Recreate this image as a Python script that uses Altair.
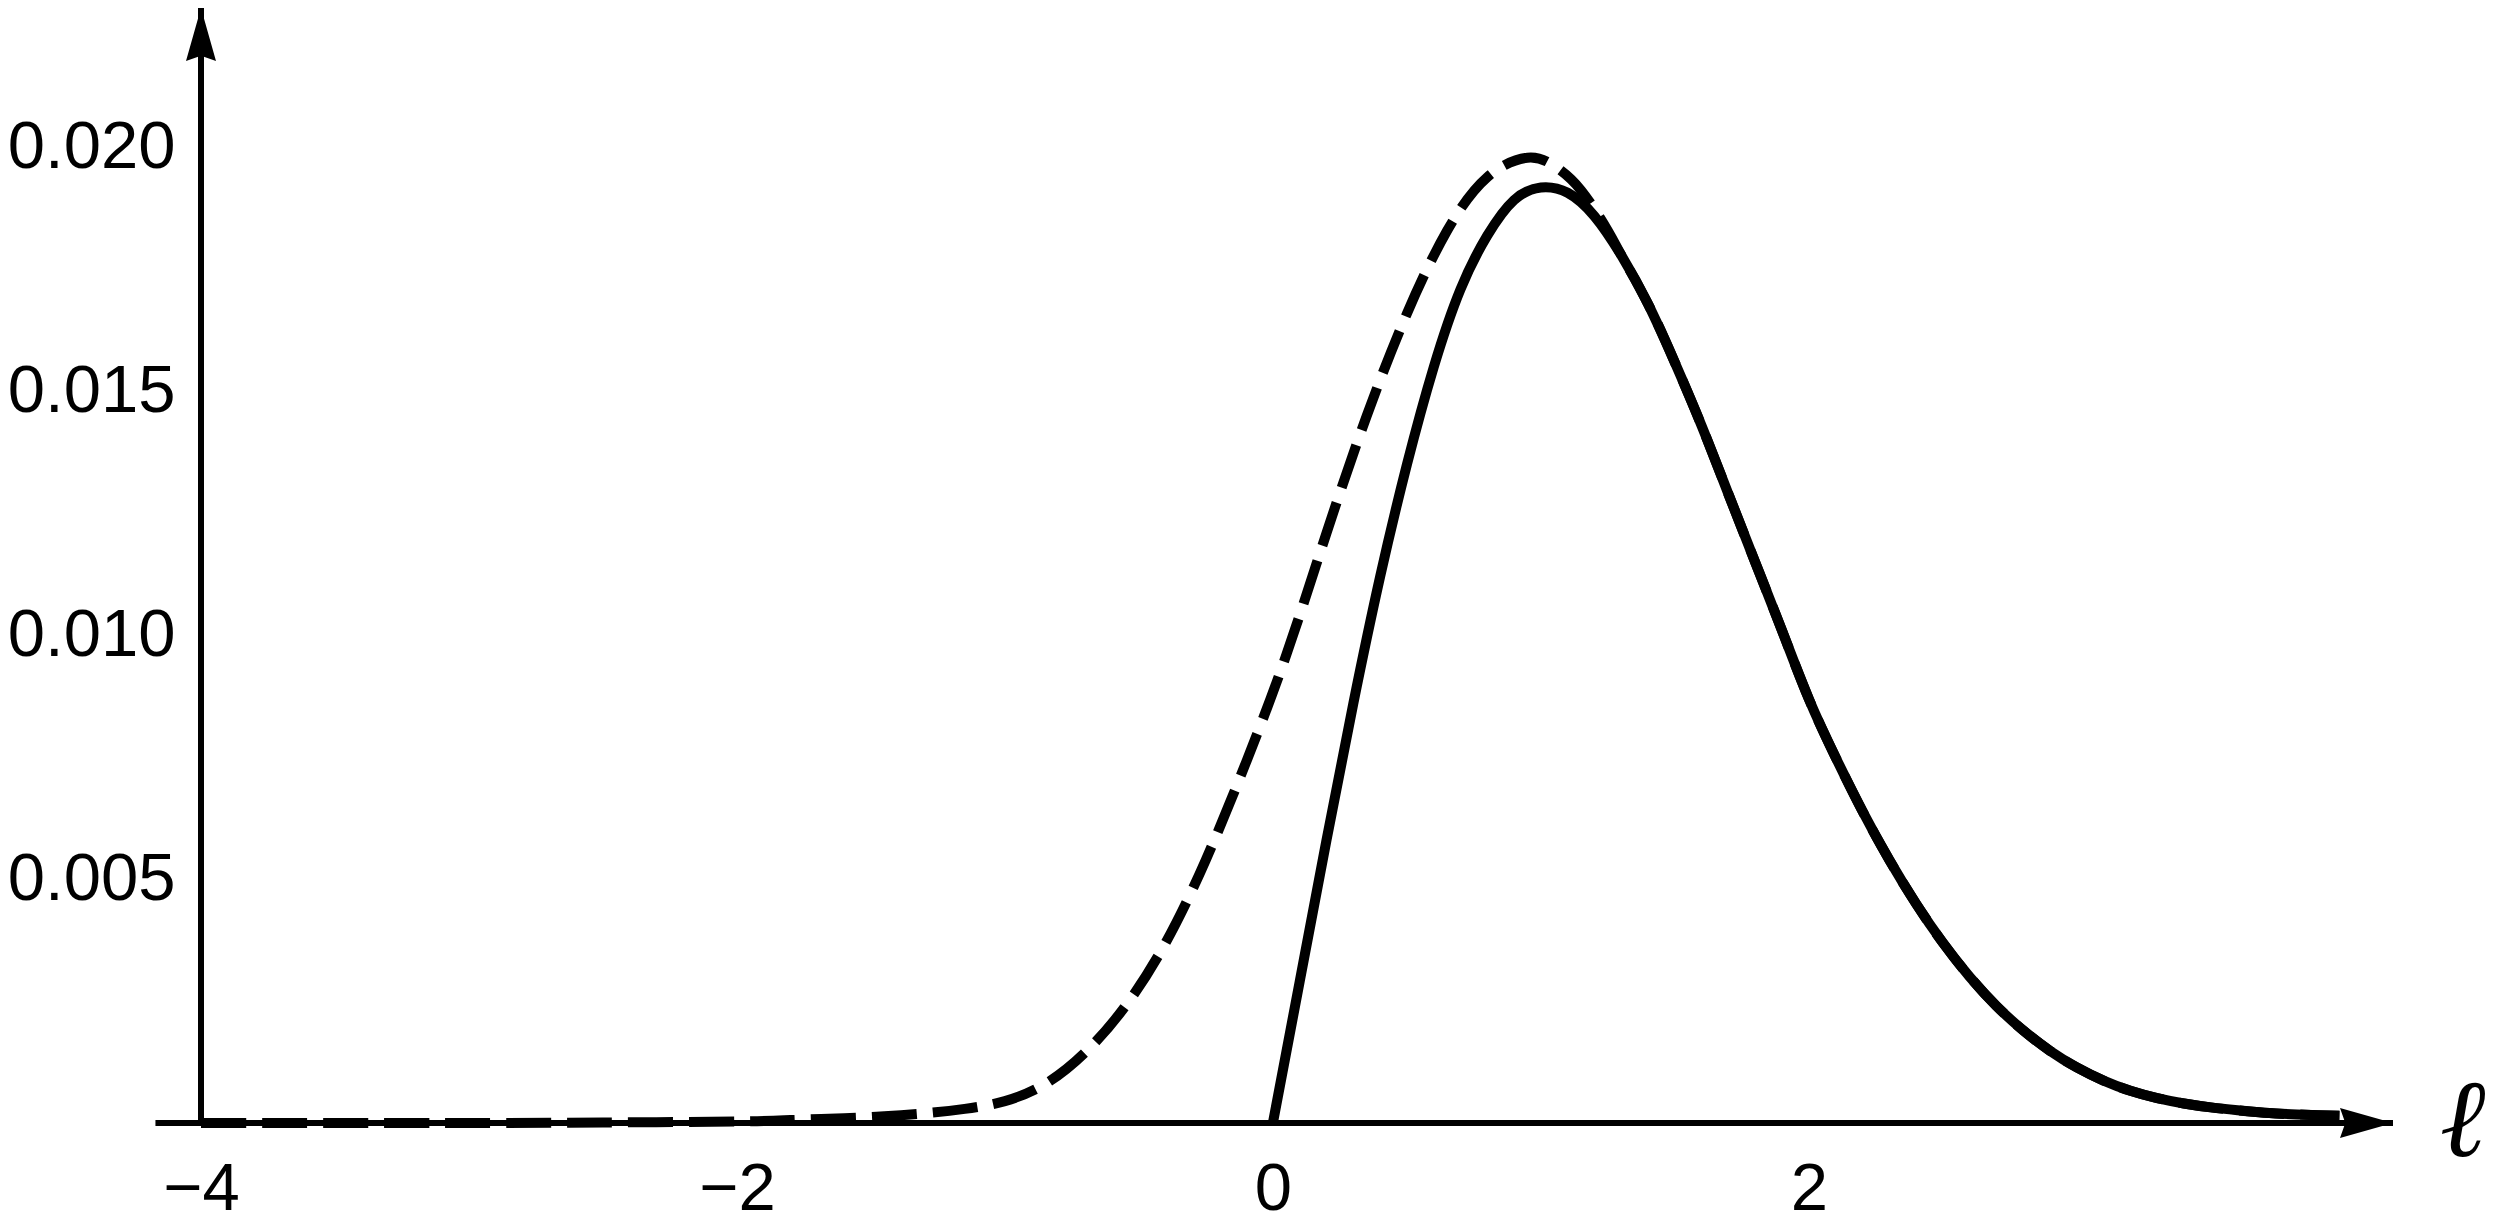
import altair as alt
import pandas as pd

# ---- data ----
dash_x = [-4.0, -3.0, -2.5, -2.0, -1.8, -1.6, -1.45, -1.3, -1.15, -1.0, -0.85, -0.7,
          -0.55, -0.4, -0.25, -0.1, 0.05, 0.2, 0.35, 0.5, 0.65, 0.8, 0.95, 1.05, 1.15,
          1.25]
dash_y = [0.0, 0.0, 0.00001, 0.00003, 0.00006, 0.0001, 0.00014, 0.0002, 0.00029,
          0.00045, 0.0008, 0.00145, 0.0024, 0.0037, 0.0054, 0.0074, 0.0096, 0.0121,
          0.0145, 0.0166, 0.0183, 0.0194, 0.0198, 0.01963, 0.01913, 0.0183]

solid_x = [0.0, 0.1, 0.2, 0.3, 0.4, 0.5, 0.6, 0.7, 0.8, 0.9, 1.0, 1.1, 1.2, 1.3, 1.4,
           1.5, 1.6, 1.7, 1.8, 1.9, 2.0, 2.1, 2.2, 2.3, 2.4, 2.5, 2.6, 2.7, 2.8, 2.9,
           3.0, 3.1, 3.2, 3.3, 3.4, 3.5, 3.6, 3.7, 3.8, 3.9, 3.98]
solid_y = [0.0, 0.0029, 0.0058, 0.0086, 0.0112, 0.0135, 0.0155, 0.0171, 0.0182, 0.01893,
           0.01919, 0.01908, 0.0186, 0.0178, 0.0168, 0.0156, 0.0143, 0.0129, 0.0115, 0.0101,
           0.0087, 0.0075, 0.0064, 0.0054, 0.0045, 0.0037, 0.0030, 0.0024, 0.0019, 0.00148,
           0.00114, 0.00087, 0.00066, 0.00051, 0.0004, 0.00032, 0.00026, 0.00021, 0.00018,
           0.00016, 0.00015]

x_ticks = [-4, -2, 0, 2]
y_ticks = [0.005, 0.010, 0.015, 0.020]
x_label = "ℓ"

X_MIN, X_MAX, X_AXIS_START = -4.0, 4.18, -4.17
Y_MAX = 0.02287
LABEL_X = 4.44

# dashed curve coincides with the solid one on the right-hand side
dash_full_x = dash_x + [x for x in solid_x if x >= 1.3]
dash_full_y = dash_y + [y for x, y in zip(solid_x, solid_y) if x >= 1.3]

df_dash = pd.DataFrame({"x": dash_full_x, "y": dash_full_y})
df_solid = pd.DataFrame({"x": solid_x, "y": solid_y})

FONT = "Liberation Sans"

xscale = alt.Scale(domain=[X_MIN, X_MAX], nice=False, zero=False)
yscale = alt.Scale(domain=[0, Y_MAX], nice=False, zero=False)

xaxis = alt.Axis(values=x_ticks, title=None, domain=False, ticks=False, grid=False,
                 labelFontSize=67, labelFont=FONT, labelColor="black",
                 labelPadding=33, format="d", labelFlush=False, labelOverlap=False)
yaxis = alt.Axis(values=y_ticks, title=None, domain=False, ticks=False, grid=False,
                 labelFontSize=67, labelFont=FONT, labelColor="black",
                 labelPadding=26, format=".3f", labelFlush=False, labelOverlap=False)

dashed = alt.Chart(df_dash).mark_line(
    color="black", strokeWidth=10, strokeDash=[45, 16], interpolate="natural"
).encode(
    x=alt.X("x:Q", scale=xscale, axis=xaxis),
    y=alt.Y("y:Q", scale=yscale, axis=yaxis),
)

solid = alt.Chart(df_solid).mark_line(
    color="black", strokeWidth=10, interpolate="natural"
).encode(x="x:Q", y="y:Q")

base = alt.Chart(pd.DataFrame({"a": [0]}))

yaxis_line = base.mark_rule(color="black", strokeWidth=6).encode(
    x=alt.datum(X_MIN), y=alt.datum(0), y2=alt.datum(Y_MAX)
)
xaxis_line = base.mark_rule(color="black", strokeWidth=6).encode(
    x=alt.datum(X_AXIS_START), x2=alt.datum(X_MAX), y=alt.datum(0)
)

UP = "M0,0 L0.283,1 L0,0.9 L-0.283,1 Z"
RIGHT = "M0,0 L-1,-0.283 L-0.9,0 L-1,0.283 Z"

up_arrow = base.mark_point(shape=UP, size=11236, filled=True, color="black",
                           opacity=1, strokeWidth=0).encode(
    x=alt.datum(X_MIN), y=alt.datum(Y_MAX)
)
right_arrow = base.mark_point(shape=RIGHT, size=11236, filled=True, color="black",
                              opacity=1, strokeWidth=0).encode(
    x=alt.datum(X_MAX), y=alt.datum(0)
)

ell = base.mark_text(text=x_label, font="Liberation Serif", fontStyle="italic",
                     fontSize=110, color="black", align="center",
                     baseline="middle").encode(
    x=alt.datum(LABEL_X), y=alt.datum(0)
)

chart = alt.layer(
    dashed, solid, yaxis_line, xaxis_line, up_arrow, right_arrow, ell
).properties(
    width=2192, height=1115,
    autosize=alt.AutoSizeParams(type="none"),
    padding={"left": 193, "top": 0, "right": 99, "bottom": 100},
).configure(
    background="white",
    view=alt.ViewConfig(stroke=None, strokeWidth=0),
)

chart.save("out.html", embed_options={"renderer": "svg", "actions": False})
